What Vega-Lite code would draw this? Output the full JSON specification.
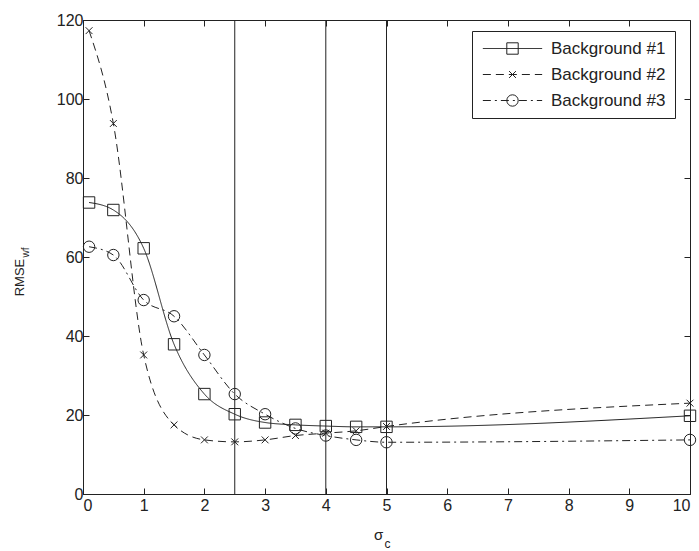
{
  "$schema": "https://vega.github.io/schema/vega-lite/v6.json",
  "width": 607,
  "height": 474,
  "autosize": {"type": "none"},
  "padding": {"left": 83, "top": 20, "right": 9, "bottom": 57},
  "background": "white",
  "config": {
    "view": {"stroke": "#222", "strokeWidth": 1},
    "font": "Liberation Sans",
    "axis": {
      "domainColor": "#222",
      "tickColor": "#222",
      "labelColor": "#222",
      "titleColor": "#222",
      "labelFont": "Liberation Sans",
      "titleFont": "Liberation Sans",
      "labelFontSize": 16,
      "grid": false,
      "tickSize": -6,
      "titleFontWeight": "normal"
    }
  },
  "datasets": {
    "series": [
      {"s": "Background #1", "x": 0.1, "y": 73.8},
      {"s": "Background #1", "x": 0.5, "y": 71.9},
      {"s": "Background #1", "x": 1, "y": 62.2},
      {"s": "Background #1", "x": 1.5, "y": 37.9},
      {"s": "Background #1", "x": 2, "y": 25.3},
      {"s": "Background #1", "x": 2.5, "y": 20.2},
      {"s": "Background #1", "x": 3, "y": 18.1},
      {"s": "Background #1", "x": 3.5, "y": 17.5},
      {"s": "Background #1", "x": 4, "y": 17.2},
      {"s": "Background #1", "x": 4.5, "y": 17.0},
      {"s": "Background #1", "x": 5, "y": 17.0},
      {"s": "Background #1", "x": 10, "y": 19.8},
      {"s": "Background #2", "x": 0.1, "y": 117.3},
      {"s": "Background #2", "x": 0.5, "y": 93.8},
      {"s": "Background #2", "x": 1, "y": 35.2},
      {"s": "Background #2", "x": 1.5, "y": 17.5},
      {"s": "Background #2", "x": 2, "y": 13.7},
      {"s": "Background #2", "x": 2.5, "y": 13.2},
      {"s": "Background #2", "x": 3, "y": 13.7},
      {"s": "Background #2", "x": 3.5, "y": 14.8},
      {"s": "Background #2", "x": 4, "y": 15.4},
      {"s": "Background #2", "x": 4.5, "y": 16.0},
      {"s": "Background #2", "x": 5, "y": 17.1},
      {"s": "Background #2", "x": 10, "y": 23.0},
      {"s": "Background #3", "x": 0.1, "y": 62.6},
      {"s": "Background #3", "x": 0.5, "y": 60.5},
      {"s": "Background #3", "x": 1, "y": 49.1},
      {"s": "Background #3", "x": 1.5, "y": 45.0},
      {"s": "Background #3", "x": 2, "y": 35.2},
      {"s": "Background #3", "x": 2.5, "y": 25.3},
      {"s": "Background #3", "x": 3, "y": 20.2},
      {"s": "Background #3", "x": 3.5, "y": 16.6},
      {"s": "Background #3", "x": 4, "y": 14.8},
      {"s": "Background #3", "x": 4.5, "y": 13.7},
      {"s": "Background #3", "x": 5, "y": 13.1},
      {"s": "Background #3", "x": 10, "y": 13.7}
    ],
    "vlines": [
      {"x": 2.5},
      {"x": 4},
      {"x": 5}
    ]
  },
  "layer": [
    {
      "data": {"name": "series"},
      "mark": {"type": "line", "stroke": "#222", "strokeWidth": 1, "interpolate": "monotone"},
      "encoding": {
        "x": {
          "field": "x", "type": "quantitative",
          "scale": {"domain": [0, 10], "nice": false, "zero": false},
          "axis": {"orient": "bottom", "values": [0,1,2,3,4,5,6,7,8,9,10], "labelPadding": 9, "title": "σ", "titleFontSize": 15, "titleX": 295, "titleY": 45, "titleBaseline": "alphabetic", "titleAlign": "center"}
        },
        "y": {
          "field": "y", "type": "quantitative",
          "scale": {"domain": [0, 120], "nice": false, "zero": true},
          "axis": {"orient": "left", "values": [0,20,40,60,80,100,120], "labelPadding": 6, "title": "RMSE", "titleFontSize": 13, "titleX": -60, "titleY": 257, "titleAngle": 270, "titleBaseline": "alphabetic", "titleAlign": "center"}
        },
        "strokeDash": {
          "field": "s", "type": "nominal",
          "scale": {"range": [[1, 0], [8, 5], [8, 4, 2, 4]]},
          "legend": {
            "title": null,
            "orient": "none",
            "legendX": 389,
            "legendY": 11,
            "padding": 9,
            "strokeColor": "#222",
            "fillColor": "white",
            "labelFontSize": 17,
            "labelFont": "Liberation Sans",
            "labelColor": "#222",
            "symbolType": "M-5.2,0H5.2",
            "symbolSize": 130,
            "symbolOffset": 23,
            "labelOffset": 30,
            "rowPadding": 8,
            "symbolStrokeColor": "#222",
            "symbolStrokeWidth": 1,
            "symbolFillColor": "transparent"
          }
        }
      }
    },
    {
      "data": {"name": "series"},
      "mark": {"type": "point", "size": 130, "filled": false, "stroke": "#222", "strokeWidth": 1, "opacity": 1},
      "encoding": {
        "x": {
          "field": "x", "type": "quantitative",
          "axis": {"orient": "top", "values": [0,1,2,3,4,5,6,7,8,9,10], "labels": false, "domain": false, "title": "c", "titleFontSize": 12, "titleX": 304, "titleY": 527, "titleBaseline": "alphabetic", "titleAlign": "center"}
        },
        "y": {
          "field": "y", "type": "quantitative",
          "axis": {"orient": "right", "values": [0,20,40,60,80,100,120], "labels": false, "domain": false, "title": null}
        },
        "shape": {
          "field": "s", "type": "nominal",
          "scale": {"domain": ["Background #1", "Background #2", "Background #3"], "range": ["M-1,-1H1V1H-1Z", "M-0.6,-0.6L0.6,0.6M-0.6,0.6L0.6,-0.6", "M-1,0A1,1,0,1,1,1,0A1,1,0,1,1,-1,0Z"]},
          "legend": {
            "title": null,
            "orient": "none",
            "legendX": 389,
            "legendY": 11,
            "padding": 9,
            "strokeColor": "transparent",
            "fillColor": "transparent",
            "labelFontSize": 17,
            "labelFont": "Liberation Sans",
            "labelColor": "transparent",
            "symbolSize": 130,
            "symbolOffset": 23,
            "labelOffset": 30,
            "rowPadding": 8,
            "symbolStrokeColor": "#222",
            "symbolStrokeWidth": 1,
            "symbolFillColor": "white"
          }
        }
      }
    },
    {
      "data": {"name": "vlines"},
      "mark": {"type": "rule", "stroke": "#222", "strokeWidth": 1},
      "encoding": {
        "x": {"field": "x", "type": "quantitative", "axis": null},
        "y": {"datum": 0, "type": "quantitative", "axis": {"orient": "left", "labels": false, "ticks": false, "domain": false, "title": "wf", "titleFontSize": 10, "titleX": -55, "titleY": 232, "titleAngle": 270, "titleBaseline": "alphabetic", "titleAlign": "center"}},
        "y2": {"datum": 120}
      }
    }
  ],
  "resolve": {"axis": {"x": "independent", "y": "independent"}}
}
